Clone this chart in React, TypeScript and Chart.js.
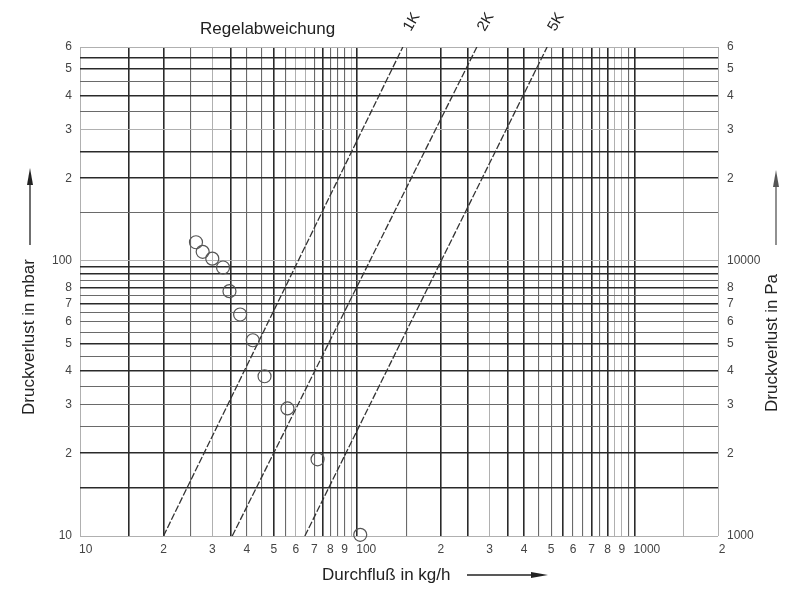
import React, { useEffect, useRef } from 'react';
import { Chart, registerables } from 'chart.js';

Chart.register(...registerables);

// ---- data ----
const FLOW_KGH = [26.2, 27.7, 30.0, 32.8, 34.6, 37.8, 42.0, 46.3, 56.0, 71.9, 102.5];
const LOSS_MBAR = [117, 108, 102, 94.7, 77.7, 63.9, 51.5, 38.1, 29.1, 19.0, 10.1];

const K_LABELS = ['1K', '2K', '5K'];
const K_FLOW_START = [20, 35.4, 64.7];
const K_FLOW_END = [146, 270, 484];
const K_LOSS_RANGE = [10, 600];

// ---- axes / ticks ----
const X_GRID = [10, 15, 20, 25, 30, 35, 40, 45, 50, 55, 60, 65, 70, 75, 80, 85, 90, 95, 100,
  150, 200, 250, 300, 350, 400, 450, 500, 550, 600, 650, 700, 750, 800, 850, 900, 950, 1000, 1500, 2000];
const X_LABEL_VALUES = [10, 20, 30, 40, 50, 60, 70, 80, 90, 100, 200, 300, 400, 500, 600, 700, 800, 900, 1000, 2000];
const X_LABEL_TEXT = ['10', '2', '3', '4', '5', '6', '7', '8', '9', '100', '2', '3', '4', '5', '6', '7', '8', '9', '1000', '2'];

const Y_GRID = [10, 15, 20, 25, 30, 35, 40, 45, 50, 55, 60, 65, 70, 75, 80, 85, 90, 95, 100,
  150, 200, 250, 300, 350, 400, 450, 500, 550, 600];
const Y_LABEL_VALUES = [10, 20, 30, 40, 50, 60, 70, 80, 100, 200, 300, 400, 500, 600];
const Y_LABEL_TEXT = ['10', '2', '3', '4', '5', '6', '7', '8', '100', '2', '3', '4', '5', '6'];

const Y2_GRID = [1000, 2000, 3000, 4000, 5000, 6000, 7000, 8000, 10000, 20000, 30000, 40000, 50000, 60000];
const Y2_LABEL_TEXT = ['1000', '2', '3', '4', '5', '6', '7', '8', '10000', '2', '3', '4', '5', '6'];

const TITLE = 'Regelabweichung';
const X_TITLE = 'Durchfluß in kg/h';
const Y_TITLE = 'Druckverlust in mbar';
const Y2_TITLE = 'Druckverlust in Pa';

// ---- grid line emphasis (style) ----
const X_DARK = [15, 20, 35, 50, 75, 100, 200, 250, 350, 400, 550, 700, 800, 1000];
const X_MED = [25, 40, 45, 55, 70, 80, 85, 90, 150, 450, 500, 600, 650, 750, 950];
const Y_DARK = [15, 20, 40, 50, 70, 80, 90, 95, 200, 250, 400, 500, 550];
const Y_MED = [25, 30, 35, 45, 55, 60, 65, 75, 85, 150, 350, 450];

const FONT = '"Liberation Sans", Arial, Helvetica, sans-serif';

function gridColor(v: number | undefined, dark: number[], med: number[]) {
  if (v === undefined) return '#aaa';
  if (dark.includes(v)) return '#2a2a2a';
  if (med.includes(v)) return '#6a6a6a';
  return '#b0b0b0';
}
function gridWidth(v: number | undefined, dark: number[], med: number[]) {
  if (v === undefined) return 1;
  if (dark.includes(v)) return 1.6;
  if (med.includes(v)) return 1.1;
  return 1;
}

function arrow(ctx: CanvasRenderingContext2D, x1: number, y1: number, x2: number, y2: number, color: string) {
  const ang = Math.atan2(y2 - y1, x2 - x1);
  const head = 17;
  const hw = 3;
  ctx.save();
  ctx.strokeStyle = color;
  ctx.fillStyle = color;
  ctx.lineWidth = 1.3;
  ctx.beginPath();
  ctx.moveTo(x1, y1);
  ctx.lineTo(x2 - Math.cos(ang) * head * 0.6, y2 - Math.sin(ang) * head * 0.6);
  ctx.stroke();
  ctx.beginPath();
  ctx.moveTo(x2, y2);
  ctx.lineTo(x2 - Math.cos(ang) * head - Math.sin(ang) * hw, y2 - Math.sin(ang) * head + Math.cos(ang) * hw);
  ctx.lineTo(x2 - Math.cos(ang) * head + Math.sin(ang) * hw, y2 - Math.sin(ang) * head - Math.cos(ang) * hw);
  ctx.closePath();
  ctx.fill();
  ctx.restore();
}

const decorPlugin = {
  id: 'decor',
  afterDraw(chart: any) {
    const ctx: CanvasRenderingContext2D = chart.ctx;
    const xs = chart.scales.x;
    const area = chart.chartArea;
    ctx.save();

    // x tick labels
    ctx.font = `12px ${FONT}`;
    ctx.fillStyle = '#444';
    ctx.textBaseline = 'alphabetic';
    X_LABEL_VALUES.forEach((v, i) => {
      const px = xs.getPixelForValue(v);
      const t = X_LABEL_TEXT[i];
      if (t.length > 1) {
        ctx.textAlign = 'left';
        ctx.fillText(t, px - 1, area.bottom + 17);
      } else {
        ctx.textAlign = 'center';
        ctx.fillText(t, px + (i === X_LABEL_VALUES.length - 1 ? 4 : 0), area.bottom + 17);
      }
    });

    // chart title
    ctx.font = `17px ${FONT}`;
    ctx.fillStyle = '#222';
    ctx.textAlign = 'left';
    ctx.fillText(TITLE, 200, 33.5);

    // K labels
    ctx.font = `15px ${FONT}`;
    K_LABELS.forEach((t, i) => {
      const px = xs.getPixelForValue(K_FLOW_END[i]) + 9;
      ctx.save();
      ctx.translate(px, 22);
      ctx.rotate(-Math.PI / 3);
      ctx.textAlign = 'center';
      ctx.textBaseline = 'middle';
      ctx.fillText(t, 0, 0);
      ctx.restore();
    });

    // bottom title + arrow
    ctx.font = `17px ${FONT}`;
    ctx.textAlign = 'left';
    ctx.textBaseline = 'alphabetic';
    ctx.fillText(X_TITLE, 322, 580);
    arrow(ctx, 467, 575, 548, 575, '#222');

    // left title + arrow
    ctx.save();
    ctx.translate(34, 337);
    ctx.rotate(-Math.PI / 2);
    ctx.textAlign = 'center';
    ctx.fillText(Y_TITLE, 0, 0);
    ctx.restore();
    arrow(ctx, 30, 245, 30, 168, '#222');

    // right title + arrow
    ctx.save();
    ctx.translate(777, 343);
    ctx.rotate(-Math.PI / 2);
    ctx.textAlign = 'center';
    ctx.fillText(Y2_TITLE, 0, 0);
    ctx.restore();
    arrow(ctx, 776, 245, 776, 170, '#555');

    ctx.restore();
  },
};

export default function App() {
  const ref = useRef<HTMLCanvasElement>(null);

  useEffect(() => {
    document.body.style.margin = '0';
    const scatterData = FLOW_KGH.map((x, i) => ({ x, y: LOSS_MBAR[i] }));
    const lineSets = K_LABELS.map((label, i) => ({
      label,
      data: [
        { x: K_FLOW_START[i], y: K_LOSS_RANGE[0] },
        { x: K_FLOW_END[i], y: K_LOSS_RANGE[1] },
      ],
      showLine: true,
      borderColor: '#333',
      borderWidth: 1.3,
      borderDash: [7, 2],
      pointRadius: 0,
      fill: false,
    }));

    const chart = new Chart(ref.current as HTMLCanvasElement, {
      type: 'scatter',
      data: {
        datasets: [
          {
            label: 'Messpunkte',
            data: scatterData,
            pointRadius: 6.5,
            pointStyle: 'circle',
            borderColor: '#555',
            borderWidth: 1.2,
            backgroundColor: 'rgba(0,0,0,0)',
            clip: false as any,
          },
          ...lineSets,
        ],
      },
      options: {
        responsive: false,
        animation: false,
        devicePixelRatio: 1,
        events: [],
        layout: { padding: { top: 47, left: 0, right: 0, bottom: 0 } },
        plugins: { legend: { display: false }, tooltip: { enabled: false }, title: { display: false } },
        scales: {
          x: {
            type: 'logarithmic',
            min: 10,
            max: 2000,
            position: 'bottom',
            afterBuildTicks: (s: any) => { s.ticks = X_GRID.map((v) => ({ value: v })); },
            afterFit: (s: any) => { s.height = 60; },
            ticks: { display: false },
            border: { display: false },
            grid: {
              drawTicks: false,
              color: (c: any) => gridColor(c.tick?.value, X_DARK, X_MED),
              lineWidth: (c: any) => gridWidth(c.tick?.value, X_DARK, X_MED),
            },
          },
          y: {
            type: 'logarithmic',
            min: 10,
            max: 600,
            position: 'left',
            afterBuildTicks: (s: any) => { s.ticks = Y_GRID.map((v) => ({ value: v })); },
            afterFit: (s: any) => { s.width = 80; },
            ticks: {
              autoSkip: false,
              padding: 8,
              color: '#444',
              font: { family: FONT, size: 12 },
              callback: (v: any) => {
                const i = Y_LABEL_VALUES.indexOf(Number(v));
                return i >= 0 ? Y_LABEL_TEXT[i] : '';
              },
            },
            border: { display: false },
            grid: {
              drawTicks: false,
              color: (c: any) => gridColor(c.tick?.value, Y_DARK, Y_MED),
              lineWidth: (c: any) => gridWidth(c.tick?.value, Y_DARK, Y_MED),
            },
          },
          y2: {
            type: 'logarithmic',
            min: 1000,
            max: 60000,
            position: 'right',
            afterBuildTicks: (s: any) => { s.ticks = Y2_GRID.map((v) => ({ value: v })); },
            afterFit: (s: any) => { s.width = 82; },
            ticks: {
              autoSkip: false,
              padding: 9,
              color: '#444',
              font: { family: FONT, size: 12 },
              callback: (v: any) => {
                const i = Y2_GRID.indexOf(Number(v));
                return i >= 0 ? Y2_LABEL_TEXT[i] : '';
              },
            },
            border: { display: false },
            grid: { drawOnChartArea: false, drawTicks: false },
          },
        },
      },
      plugins: [decorPlugin],
    });
    return () => chart.destroy();
  }, []);

  return (
    <div style={{ position: 'absolute', left: 0, top: 0, width: 800, height: 596, background: '#fff' }}>
      <canvas ref={ref} width={800} height={596} style={{ display: 'block', width: 800, height: 596 }} />
    </div>
  );
}
